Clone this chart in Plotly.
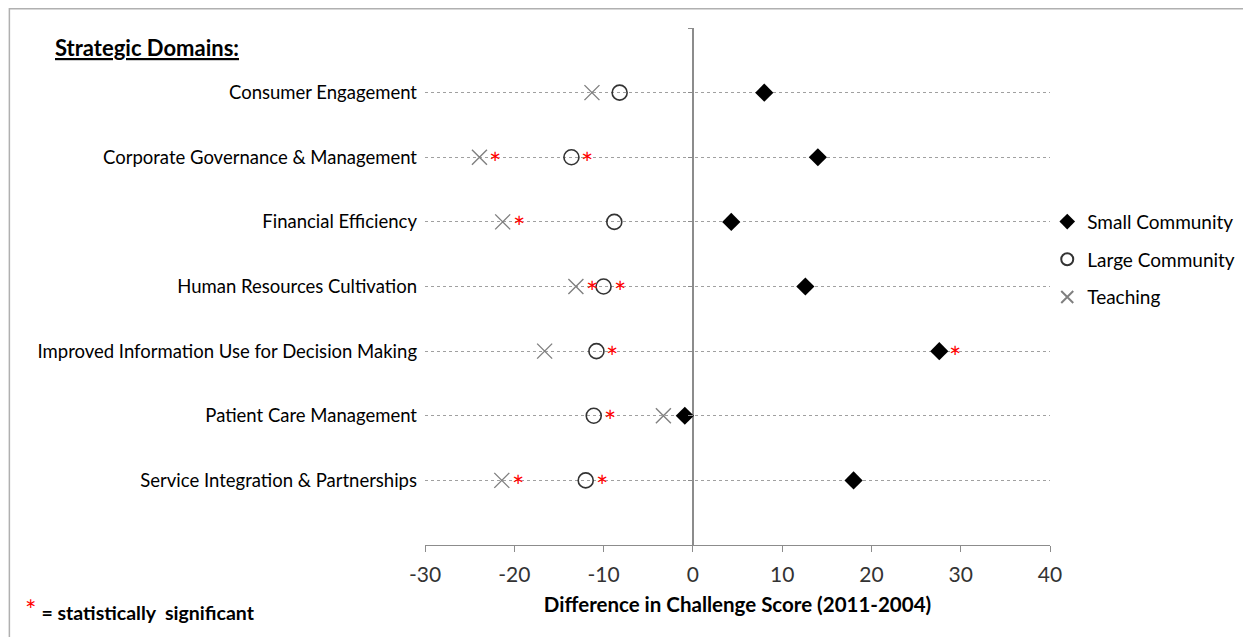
import plotly.graph_objects as go

categories = [
    "Consumer Engagement",
    "Corporate Governance & Management",
    "Financial Efficiency",
    "Human Resources Cultivation",
    "Improved Information Use for Decision Making",
    "Patient Care Management",
    "Service Integration & Partnerships",
]
small_community = [8.0, 14.0, 4.3, 12.6, 27.6, -0.9, 18.0]
large_community = [-8.2, -13.6, -8.8, -10.0, -10.8, -11.1, -12.0]
teaching = [-11.3, -23.9, -21.3, -13.1, -16.6, -3.3, -21.4]
small_sig = [False, False, False, False, True, False, False]
large_sig = [False, True, False, True, True, True, True]
teach_sig = [False, True, True, True, False, False, True]
x_ticks = [-30, -20, -10, 0, 10, 20, 30, 40]

FONT = "Lato"
n = len(categories)
ypos = [n - i for i in range(n)]  # 7..1

fig = go.Figure()
fig.add_trace(go.Scatter(
    x=small_community, y=ypos, mode="markers", name="Small Community",
    legendgroup="a",
    marker=dict(symbol="diamond", size=14, color="black"),
))
fig.add_trace(go.Scatter(
    x=large_community, y=ypos, mode="markers", name="Large Community",
    legendgroup="b",
    marker=dict(symbol="circle-open", size=15, color="#333333", line=dict(width=1.6)),
))
fig.add_trace(go.Scatter(
    x=teaching, y=ypos, mode="markers", name="Teaching",
    legendgroup="c",
    marker=dict(symbol="x-thin-open", size=15, color="#808080", line=dict(width=1.4, color="#808080")),
))
# invisible trace to create ticks on the zero line
fig.add_trace(go.Scatter(x=[0], y=[0], yaxis="y2", mode="markers",
                         marker=dict(opacity=0), showlegend=False, hoverinfo="skip"))

annotations = []
for vals, sigs in [(small_community, small_sig), (large_community, large_sig), (teaching, teach_sig)]:
    for v, s, yy in zip(vals, sigs, ypos):
        if s:
            annotations.append(dict(
                x=v, y=yy, xref="x", yref="y", text="*", showarrow=False,
                xshift=16, yshift=-5,
                font=dict(family=FONT, size=29, color="#ff0000"),
            ))

annotations.append(dict(
    x=-0.595, y=0.963, xref="paper", yref="paper", xanchor="left", yanchor="middle",
    text="<b><u>Strategic Domains:</u></b>", showarrow=False,
    font=dict(family=FONT, size=22, color="black"),
))
annotations.append(dict(
    x=-0.644, y=-0.124, xref="paper", yref="paper", xanchor="left", yanchor="middle",
    text="<span style='color:#ff0000;font-size:27px'>*</span> <b>= statistically  significant</b>",
    showarrow=False, font=dict(family=FONT, size=19.5, color="black"),
))

fig.update_layout(
    width=1243, height=629, autosize=False,
    margin=dict(l=417, r=200, t=20, b=92),
    paper_bgcolor="white", plot_bgcolor="white",
    font=dict(family=FONT, color="black"),
    showlegend=True,
    legend=dict(
        x=0.994, y=0.662, xanchor="left", yanchor="top",
        font=dict(family=FONT, size=19, color="black"),
        tracegroupgap=10, traceorder="grouped",
        itemsizing="constant", bgcolor="rgba(0,0,0,0)",
    ),
    xaxis=dict(
        range=[-30, 40], tickvals=x_ticks, ticktext=[str(t) for t in x_ticks],
        showgrid=False, zeroline=True, zerolinecolor="#8c8c8c", zerolinewidth=1.5,
        showline=True, linecolor="#8c8c8c", linewidth=1.3,
        ticks="outside", ticklen=6, tickcolor="#8c8c8c",
        ticklabelstandoff=5,
        tickfont=dict(family=FONT, size=21, color="#333333"),
        title=dict(text="<b>Difference in Challenge Score (2011-2004)</b>",
                   font=dict(family=FONT, size=20.5, color="black"), standoff=12),
    ),
    yaxis=dict(
        range=[0, 8], tickvals=list(range(1, 9)),
        ticktext=[categories[n - v] if v <= n else "" for v in range(1, 9)],
        showgrid=True, gridcolor="#a0a0a0", griddash="dot", gridwidth=1,
        zeroline=False, showline=False, ticks="",
        ticklabelstandoff=7,
        tickfont=dict(family=FONT, size=18.5, color="black"),
    ),
    yaxis2=dict(
        overlaying="y", anchor="free", position=30 / 70, side="left",
        range=[0, 8], tickvals=list(range(1, 9)),
        showgrid=False, zeroline=False, showline=False,
        ticks="outside", ticklen=5, tickcolor="#8c8c8c", showticklabels=False,
    ),
    annotations=annotations,
    shapes=[dict(type="rect", xref="paper", yref="paper",
                 x0=-0.665, x1=1.317, y0=-0.2, y1=1.037,
                 line=dict(color="#b0b0b0", width=1.5), fillcolor="rgba(0,0,0,0)", layer="below")],
)

fig.write_html("out.html")
